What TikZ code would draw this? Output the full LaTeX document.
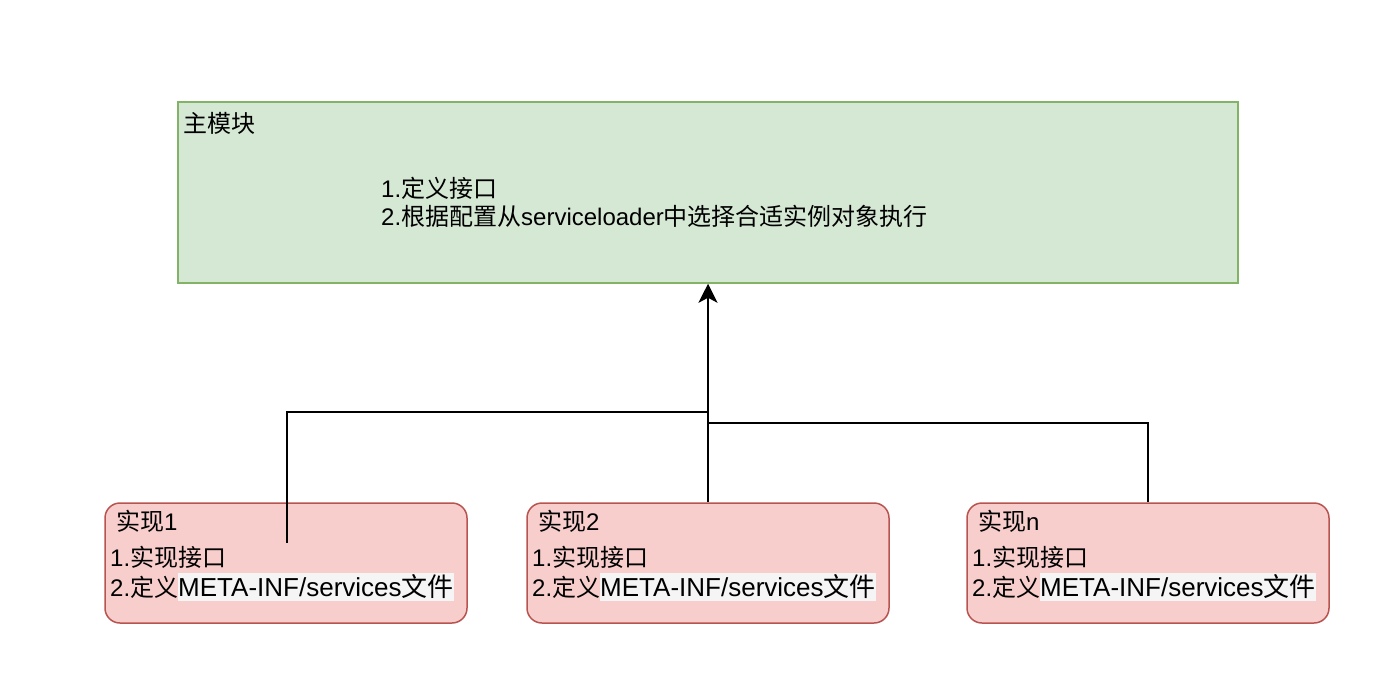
\documentclass[tikz,border=0pt]{standalone}
\usepackage{fontspec}
\setmainfont{Liberation Sans}
\newfontfamily\cjk{Noto Sans CJK SC}
\newcommand{\zh}[1]{{\cjk #1}}
\usetikzlibrary{arrows.meta}
\definecolor{gfill}{HTML}{D5E8D4}
\definecolor{gdraw}{HTML}{82B366}
\definecolor{rfill}{HTML}{F8CECC}
\definecolor{rdraw}{HTML}{B85450}
\definecolor{hl}{HTML}{F5F5F5}
\newcommand{\hlbox}[1]{{\setlength\fboxsep{0pt}\colorbox{hl}{\fontsize{26}{30}\selectfont\rule[-5pt]{0pt}{28pt}#1}}}
\tikzset{
  mainbox/.style={draw=gdraw, fill=gfill, line width=1.5pt, minimum width=1060pt, minimum height=181pt, inner sep=0pt},
  implbox/.style={draw=rdraw, fill=rfill, line width=1.5pt, rounded corners=15pt, minimum width=362pt, minimum height=120pt, inner sep=0pt},
  txt/.style={anchor=base west, inner sep=0pt, font=\fontsize{24}{30}\selectfont},
  conn/.style={line width=2pt, black},
}
\begin{document}
\begin{tikzpicture}[x=1pt,y=-1pt]
\useasboundingbox (0,0) rectangle (1396,694);
% boxes
\node[mainbox] (main) at (708,192.5) {};
\node[implbox] (impl1) at (286,563) {};
\node[implbox] (impl2) at (708,563) {};
\node[implbox] (impl3) at (1148,563) {};
% texts
\node[txt] (mt) at (183,132) {\zh{主模块}};
\node[txt] (ml1) at (381,197) {1.\zh{定义接口}};
\node[txt] (ml2) at (381,225) {2.\zh{根据配置从}serviceloader\zh{中选择合适实例对象执行}};
\node[txt] (a0) at (116,530) {\zh{实现}1};
\node[txt] (a1) at (110,566) {1.\zh{实现接口}};
\node[txt] (a2) at (110,596) {2.\zh{定义}\hlbox{META-INF/services\zh{文件}}};
\node[txt] (b0) at (538,530) {\zh{实现}2};
\node[txt] (b1) at (532,566) {1.\zh{实现接口}};
\node[txt] (b2) at (532,596) {2.\zh{定义}\hlbox{META-INF/services\zh{文件}}};
\node[txt] (c0) at (978,530) {\zh{实现}n};
\node[txt] (c1) at (972,566) {1.\zh{实现接口}};
\node[txt] (c2) at (972,596) {2.\zh{定义}\hlbox{META-INF/services\zh{文件}}};
% connectors
\coordinate (s1) at (287,543);
\coordinate (j1) at (708,412);
\coordinate (j3) at (708,423);
\draw[conn] (s1) |- (j1);
\draw[conn] (impl3.north) |- (j3);
\draw[conn, -{Stealth[length=19pt, width=19pt, inset=5pt]}] (impl2.north) -- (main.south);
\end{tikzpicture}
\end{document}
